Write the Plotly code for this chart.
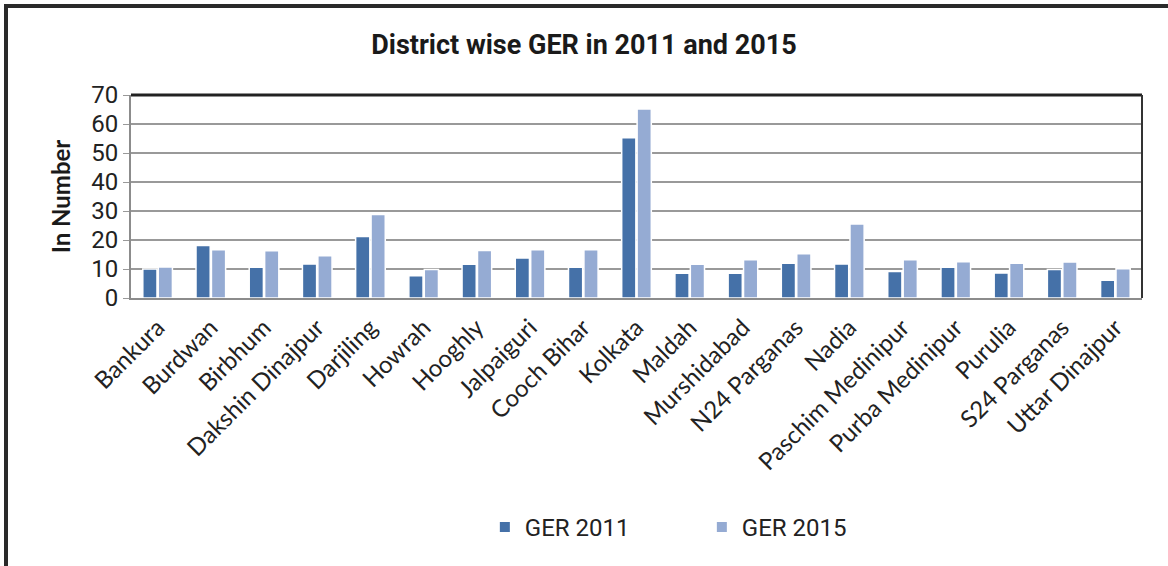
import plotly.graph_objects as go

districts = ["Bankura", "Burdwan", "Birbhum", "Dakshin Dinajpur", "Darjiling", "Howrah",
             "Hooghly", "Jalpaiguri", "Cooch Bihar", "Kolkata", "Maldah", "Murshidabad",
             "N24 Parganas", "Nadia", "Paschim Medinipur", "Purba Medinipur", "Purulia",
             "S24 Parganas", "Uttar Dinajpur"]
ger_2011 = [10.0, 18.1, 10.6, 11.7, 21.2, 7.7, 11.6, 13.8, 10.6, 55.3, 8.5, 8.5,
            12.0, 11.7, 9.1, 10.6, 8.6, 9.8, 6.1]
ger_2015 = [10.7, 16.6, 16.3, 14.6, 28.8, 9.8, 16.4, 16.6, 16.6, 65.2, 11.6, 13.2,
            15.3, 25.5, 13.2, 12.5, 12.0, 12.4, 10.1]
y_ticks = [0, 10, 20, 30, 40, 50, 60, 70]

narrow = "Liberation Sans Narrow, Arial Narrow, Roboto, sans-serif"
label_font = "Lato, Open Sans, sans-serif"

fig = go.Figure()
fig.add_trace(go.Bar(name="GER 2011", x=districts, y=ger_2011,
                     marker=dict(color="#4571A8", line=dict(color="white", width=1.5))))
fig.add_trace(go.Bar(name="GER 2015", x=districts, y=ger_2015,
                     marker=dict(color="#95ABD3", line=dict(color="white", width=1.5))))

fig.update_layout(
    width=1168, height=566,
    margin=dict(l=131, r=26, t=95, b=268),
    paper_bgcolor="white", plot_bgcolor="white",
    barmode="group", bargap=0.42, bargroupgap=0.08,
    title=dict(text="<b>District wise GER in 2011 and 2015</b>", x=0.5, xanchor="center",
               y=1 - 45 / 566, yanchor="middle",
               font=dict(family=narrow, size=27, color="#1a1a1a")),
    showlegend=True,
    legend=dict(orientation="h", x=0.350, xanchor="left", y=-1.13, yanchor="middle",
                entrywidth=172, entrywidthmode="pixels",
                font=dict(family=narrow, size=24, color="#222"), itemsizing="constant"),
    xaxis=dict(tickangle=-45, tickfont=dict(family=label_font, size=24, color="#222"),
               showgrid=False, showline=True, linecolor="#8c8c8c", linewidth=2,
               ticks="", ticklabelstandoff=4, fixedrange=True),
    yaxis=dict(range=[0, 70], tickvals=y_ticks, ticktext=[str(v) for v in y_ticks],
               tickfont=dict(family=narrow, size=24, color="#222"),
               showgrid=True, gridcolor="#999999", gridwidth=2,
               showline=True, linecolor="#8c8c8c", linewidth=2,
               ticks="outside", ticklen=6, tickcolor="#999999",
               title=dict(text="<b>In Number</b>", standoff=14,
                          font=dict(family=label_font, size=24, color="#1a1a1a"))),
)

# plot-area border: thick dark top and right edges
fig.add_shape(type="line", xref="paper", yref="paper", x0=0, x1=1, y0=1, y1=1,
              line=dict(color="#222", width=3))
fig.add_shape(type="line", xref="paper", yref="paper", x0=1, x1=1, y0=0, y1=1,
              line=dict(color="#333", width=2))
# outer chart frame (extends past right/bottom edges)
fig.add_shape(type="rect", xref="paper", yref="paper",
              x0=(6 - 131) / 1011, x1=(1200 - 131) / 1011,
              y0=(298 - 600) / 203, y1=(298 - 6) / 203,
              line=dict(color="#2a2a2a", width=4), layer="below")

fig.write_html("out.html", config={"displayModeBar": False},
               post_script="document.body.style.margin='0';document.body.style.overflow='hidden';")
